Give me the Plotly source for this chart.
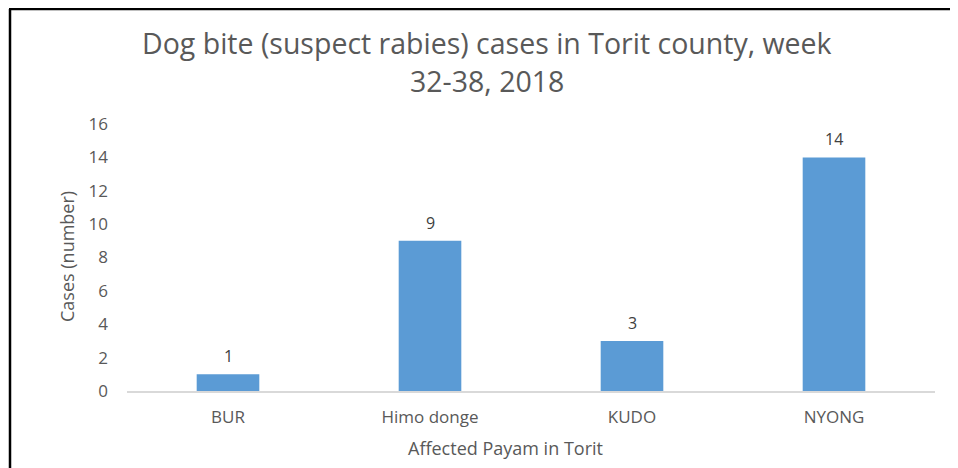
import plotly.graph_objects as go

payams = ["BUR", "Himo donge", "KUDO", "NYONG"]
cases = [1, 9, 3, 14]
y_ticks = [0, 2, 4, 6, 8, 10, 12, 14, 16]

BAR = "#5B9BD5"
TEXT = "#595959"
LABEL = "#404040"
FONT = "'Open Sans', sans-serif"

# the page puts the figure 8px in from the window corner
OFF = 8
W, H = 958 - OFF, 468 - OFF
L, R, T, B = 119, 23, 116, 77
PW, PH = W - L - R, H - T - B


def px_x(x):
    """window pixel -> paper x"""
    return (x - OFF - L) / PW


def px_y(y):
    """window pixel -> paper y"""
    return (H - B - (y - OFF)) / PH


fig = go.Figure(
    go.Bar(
        x=payams,
        y=cases,
        width=0.31,
        marker=dict(color=BAR, line=dict(width=0)),
        hovertemplate="%{x}: %{y}<extra></extra>",
    )
)

for name, value in zip(payams, cases):
    fig.add_annotation(
        x=name, y=value, text=str(value), showarrow=False,
        yanchor="bottom", yshift=5,
        font=dict(size=16, color=LABEL),
    )

fig.update_layout(
    width=W,
    height=H,
    paper_bgcolor="white",
    plot_bgcolor="white",
    font=dict(family=FONT, size=16, color=TEXT),
    margin=dict(l=L, r=R, t=T, b=B),
    showlegend=False,
)

# title, two lines as in the original
for line, y in (("Dog bite (suspect rabies) cases in Torit county, week", 43),
                ("32-38, 2018", 81)):
    fig.add_annotation(
        text=line, xref="paper", yref="paper", x=px_x(487), y=px_y(y),
        xanchor="center", yanchor="middle", showarrow=False,
        font=dict(size=28.5, color=TEXT),
    )

# axis titles
fig.add_annotation(
    text="Affected Payam in Torit", xref="paper", yref="paper",
    x=px_x(505), y=px_y(448), xanchor="center", yanchor="middle",
    showarrow=False, font=dict(size=18, color=TEXT),
)
fig.add_annotation(
    text="Cases (number)", xref="paper", yref="paper",
    x=px_x(67), y=px_y(257), xanchor="center", yanchor="middle",
    textangle=-90, showarrow=False, font=dict(size=18, color=TEXT),
)

fig.update_xaxes(
    showgrid=False,
    showline=True,
    linecolor="#D9D9D9",
    linewidth=1.5,
    ticks="",
    ticklabelstandoff=10,
    tickfont=dict(size=17, color=TEXT),
)
fig.update_yaxes(
    range=[0, 16],
    tickvals=y_ticks,
    showgrid=False,
    zeroline=False,
    ticks="",
    ticklabelstandoff=18,
    tickfont=dict(size=17, color=TEXT),
)

# outer chart border (top and left edges only visible in the crop)
fig.add_shape(type="line", xref="paper", yref="paper",
              x0=px_x(9), x1=px_x(960), y0=px_y(9), y1=px_y(9),
              line=dict(color="black", width=2.5))
fig.add_shape(type="line", xref="paper", yref="paper",
              x0=px_x(10), x1=px_x(10), y0=px_y(9), y1=px_y(470),
              line=dict(color="black", width=2.5))

fig.write_html("out.html")
